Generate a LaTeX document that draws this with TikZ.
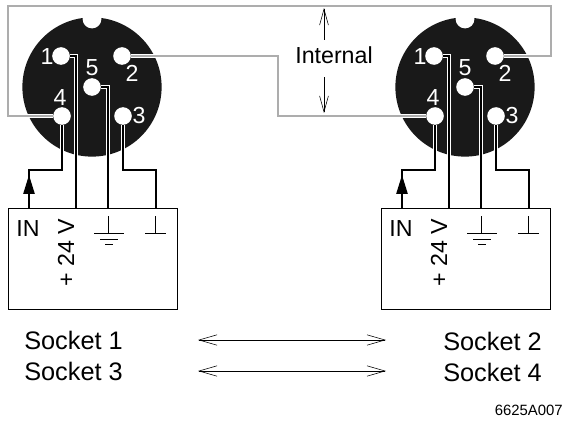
\documentclass[tikz,border=0pt]{standalone}
\usepackage{fontspec}
\setmainfont{Liberation Sans}
\usetikzlibrary{arrows.meta}
\newcommand{\bigtxt}{\fontsize{16.5}{18}\selectfont}
\newcommand{\socktxt}{\fontsize{18}{20}\selectfont}
\tikzset{
  pin/.style={circle,fill=white,draw=none,minimum size=0.44cm,inner sep=0},
  pinlabel/.style={text=white,font=\bigtxt,inner sep=0},
  label/.style={font=\bigtxt,inner sep=0},
  wire/.style={draw=black,line width=1.1pt,preaction={draw=white,line width=2.4pt}},
  greywire/.style={draw=black!32,line width=1.2pt,preaction={draw=white,line width=2.3pt}},
  termbox/.style={draw=black,line width=0.7pt,minimum width=4.225cm,minimum height=2.525cm,inner sep=0},
  earth/.style={line width=0.6pt},
  thinarrow/.style={line width=0.4pt,{Straight Barb[length=4.5mm,width=2.6mm,line width=0.4pt]}-{Straight Barb[length=4.5mm,width=2.6mm,line width=0.4pt]}},
  uparrow/.style={line width=0.4pt,-{Straight Barb[length=4mm,width=2.2mm,line width=0.4pt]}}
}

\begin{document}
\begin{tikzpicture}[x=0.025cm,y=-0.025cm]
\useasboundingbox (0,0) rectangle (564,420);

\foreach \side/\dx in {l/0,r/373} {
\begin{scope}[xshift=\dx*0.025cm]
  \node[circle,fill=black!90,minimum size=3.48cm,inner sep=0] (\side disc) at (92,87) {};
  \node[circle,fill=white,minimum size=0.47cm,inner sep=0] (\side notch) at (92,19) {};
  \node[pin] (\side1) at (61,56) {};
  \node[pin] (\side2) at (122,56) {};
  \node[pin] (\side5) at (92,87) {};
  \node[pin] (\side4) at (62,116) {};
  \node[pin] (\side3) at (123,116) {};
  \node[pinlabel] (\side txt1) at (47,57) {1};
  \node[pinlabel] (\side txt2) at (132,73) {2};
  \node[pinlabel] (\side txt5) at (92,68) {5};
  \node[pinlabel] (\side txt4) at (60,98) {4};
  \node[pinlabel] (\side txt3) at (139,116) {3};

  \node[termbox,anchor=north west] (\side box) at (8,208) {};
  \coordinate (\side in) at (29,208);
  \coordinate (\side tip) at (29,175);
  \coordinate (\side bend) at (29,170);
  \coordinate (\side v) at (76,208);
  \coordinate (\side gnd) at (108,208);
  \coordinate (\side com) at (156,208);
  \coordinate (\side combend) at (123,170);

  % wires
  \draw[wire] (\side1.east) -| (\side v);
  \draw[wire] (\side5.east) -| (\side gnd);
  \draw[wire] (\side3.south) -- (\side combend) -- (\side combend -| \side com) -- (\side com);
  \draw[wire] (\side in) -- (\side bend) -| (\side4.south);
  \draw[-{Triangle[length=0.47cm,width=0.28cm]},line width=1.1pt] (\side in) -- (\side tip);

  \node[label] (\side IN) at (28,229) {IN};
  \node[label,rotate=90] (\side volt) at (66,253) {+ 24 V};

  % earth symbol
  \coordinate (\side ea) at (108,216);
  \coordinate (\side eb) at (108,233);
  \draw[earth] (\side ea) -- (\side eb);
  \draw[earth] (94,233) -- (124,233);
  \draw[earth] (100,239) -- (118,239);
  \draw[earth] (105,244) -- (113,244);
  \coordinate (\side ca) at (155,216);
  \coordinate (\side cb) at (155,233);
  \draw[earth] (\side ca) -- (\side cb);
  \draw[earth] (145,233) -- (166,233);
\end{scope}
}

% internal link
\coordinate (topleft) at (8,6);
\coordinate (topright) at (551,6);
\coordinate (midtop) at (278,56);
\coordinate (midlow) at (278,116);
\draw[greywire] (l4.west) -| (topleft) -- (topright) |- (r2.east);
\draw[greywire] (l2.east) -- (midtop) -- (midlow) -- (r4.west);

\node[label] (internal) at (334,55) {Internal};
\coordinate (intupa) at (324,40);
\coordinate (intupb) at (324,8);
\coordinate (intloa) at (324,77);
\coordinate (intlob) at (324,113);
\draw[uparrow] (intupa) -- (intupb);
\draw[uparrow] (intloa) -- (intlob);

\node[label,font=\socktxt,anchor=west] (sock1) at (24,340) {Socket 1};
\node[label,font=\socktxt,anchor=west] (sock3) at (24,371) {Socket 3};
\node[label,font=\socktxt,anchor=west] (sock2) at (443,341) {Socket 2};
\node[label,font=\socktxt,anchor=west] (sock4) at (443,372) {Socket 4};
\coordinate (arrowal) at (198,340);
\coordinate (arrowar) at (386,340);
\coordinate (arrowbl) at (198,371);
\coordinate (arrowbr) at (386,371);
\draw[thinarrow] (arrowal) -- (arrowar);
\draw[thinarrow] (arrowbl) -- (arrowbr);

\node[font=\fontsize{10.6}{12}\selectfont,anchor=east,inner sep=0] (code) at (563,410) {6625A007};
\end{tikzpicture}
\end{document}
